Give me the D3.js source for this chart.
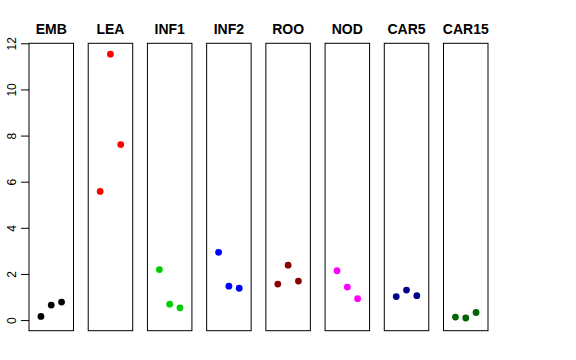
<!DOCTYPE html>
<html>
<head>
<meta charset="utf-8">
<script src="https://cdn.jsdelivr.net/npm/d3@7"></script>
<style>
  html, body { margin: 0; padding: 0; background: #fff; }
  svg { display: block; }
  text { font-family: "Liberation Sans", Arial, Helvetica, sans-serif; }
</style>
</head>
<body>
<svg id="chart" width="576" height="360"></svg>
<script>
// ---- data ----
const categories = ["EMB", "LEA", "INF1", "INF2", "ROO", "NOD", "CAR5", "CAR15"];
const colors = ["#000000", "#FF0000", "#00CD00", "#0000FF", "#8B0000", "#FF00FF", "#00008B", "#006400"];
const replicates = [1, 2, 3];
const values = [
  [0.16, 0.65, 0.78],   // EMB
  [5.58, 11.53, 7.61],  // LEA
  [2.19, 0.69, 0.53],   // INF1
  [2.94, 1.47, 1.38],   // INF2
  [1.56, 2.38, 1.69],   // ROO
  [2.14, 1.43, 0.93],   // NOD
  [1.02, 1.30, 1.06],   // CAR5
  [0.13, 0.09, 0.33]    // CAR15
];
const yTicks = [0, 2, 4, 6, 8, 10, 12];

// ---- layout ----
const svg = d3.select("#chart");
const plotTop = 43.3, plotBottom = 330.7;
const panel = d3.scaleBand().domain(categories).range([29, 488]).paddingInner(0.2485).paddingOuter(0);
const y = d3.scaleLinear().domain([-0.46, 12.0]).range([plotBottom, plotTop]);
const xIn = d3.scaleLinear().domain([-0.16, 4.16]).range([0, panel.bandwidth()]);

// y axis (ticks attached to first panel's left edge)
const yAxis = d3.axisLeft(y).tickValues(yTicks).tickSize(8).tickFormat(d3.format("d"));
const ag = svg.append("g").attr("transform", `translate(${panel(categories[0])},0)`).call(yAxis);
ag.select(".domain").remove();
ag.selectAll(".tick line").attr("stroke", "#000");
ag.selectAll(".tick text")
  .attr("font-size", 12)
  .attr("fill", "#000")
  .attr("x", null).attr("dy", null)
  .attr("text-anchor", "middle")
  .attr("transform", "translate(-13.5,0) rotate(-90)");

// panels
categories.forEach((cat, i) => {
  const g = svg.append("g").attr("transform", `translate(${panel(cat)},0)`);
  g.append("rect")
    .attr("x", 0).attr("y", plotTop)
    .attr("width", panel.bandwidth()).attr("height", plotBottom - plotTop)
    .attr("fill", "none").attr("stroke", "#000").attr("stroke-width", 1);
  g.append("text")
    .attr("x", panel.bandwidth() / 2).attr("y", 34)
    .attr("text-anchor", "middle")
    .attr("font-size", 14).attr("font-weight", "bold")
    .text(cat);
  g.selectAll("circle")
    .data(values[i])
    .join("circle")
    .attr("cx", (d, j) => xIn(replicates[j]))
    .attr("cy", d => y(d))
    .attr("r", 3.4)
    .attr("fill", colors[i]);
});
</script>
</body>
</html>
